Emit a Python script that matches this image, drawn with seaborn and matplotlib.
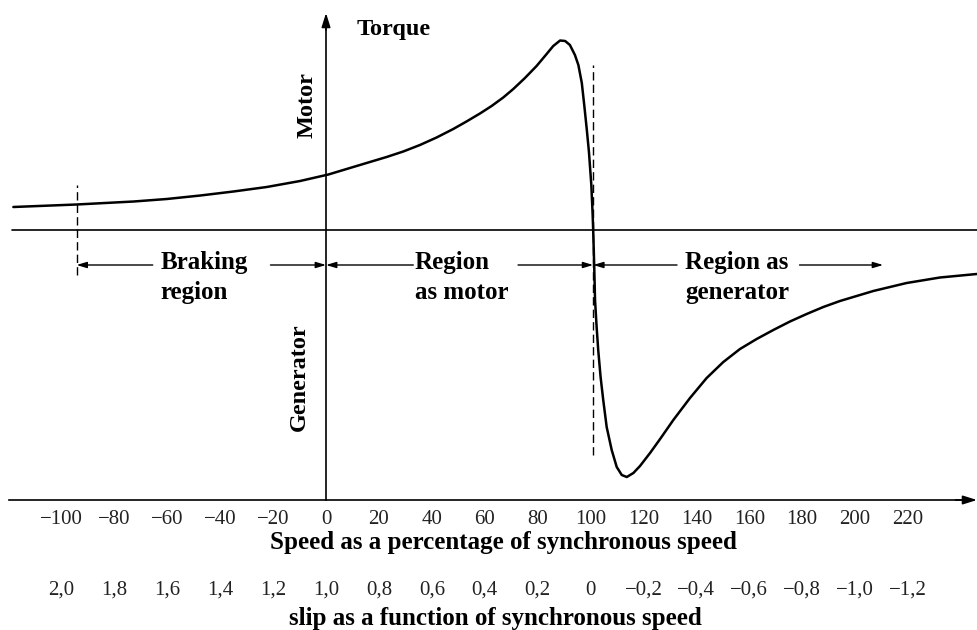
import matplotlib
matplotlib.use("Agg")
import matplotlib.pyplot as plt
import pandas as pd
import seaborn as sns

# Torque-speed characteristic of an induction machine (torque in arbitrary units)
speed_pct = [-118.2, -94.3, -72.7, -60.2, -47.5, -35, -22.4, -9.8, 0.9, 10.3, 16.6, 22.9, 29.2,
             35.5, 41.8, 48.1, 53.1, 58.2, 62.6, 67, 70.8, 75.2, 79.6, 83.4, 85.9, 88.5, 90.4,
             92.2, 94.1, 95.4, 96.7, 97.7, 98.6, 99.4, 100.3, 100.8, 101.0,
             101.4, 101.7, 102.3, 102.9, 103.8, 104.8, 106.1, 108.0, 109.9, 111.8, 113.7,
             116.2, 118.7, 122.5, 126.3, 131.3, 137.6, 143.9, 150.2, 156.5, 162.8, 169.1,
             175.4, 181.7, 188, 194.3, 206.9, 219.5, 232.1, 246]
torque = [0.23, 0.255, 0.285, 0.31, 0.345, 0.385, 0.43, 0.49, 0.555, 0.63, 0.68, 0.73, 0.785,
          0.85, 0.925, 1.01, 1.085, 1.165, 1.24, 1.325, 1.41, 1.52, 1.64, 1.76, 1.84, 1.895, 1.89,
          1.85, 1.75, 1.65, 1.47, 1.23, 1.00, 0.78, 0.45, 0.15, 0.0,
          -0.37, -0.70, -0.97, -1.20, -1.47, -1.70, -1.97, -2.20, -2.37, -2.45, -2.47,
          -2.43, -2.36, -2.23, -2.09, -1.90, -1.68, -1.48, -1.32, -1.19, -1.09, -1.00,
          -0.915, -0.84, -0.77, -0.71, -0.61, -0.53, -0.475, -0.44]

speed_ticks = [-100, -80, -60, -40, -20, 0, 20, 40, 60, 80, 100, 120, 140, 160, 180, 200, 220]
slip_ticks = [2.0, 1.8, 1.6, 1.4, 1.2, 1.0, 0.8, 0.6, 0.4, 0.2, 0.0, -0.2, -0.4, -0.6, -0.8, -1.0, -1.2]

braking_limit = -94.3
sync_speed = 101
speed_axis_y = -2.70

df = pd.DataFrame({"speed": speed_pct, "torque": torque})

sns.set_theme(style="white")
plt.rcParams["font.family"] = ["Liberation Serif", "DejaVu Serif"]
plt.rcParams["axes.unicode_minus"] = True

fig = plt.figure(figsize=(9.77, 6.30), dpi=100)
ax = fig.add_axes([0, 0, 1, 1])
ax.set_xlim(-123.25, 246.1)
ax.set_ylim(-4.0, 2.3)

sns.lineplot(data=df, x="speed", y="torque", ax=ax, color="black", lw=1.8,
             solid_joinstyle="round", solid_capstyle="round")

# axes drawn through the origin like the textbook figure
for side in ["top", "right"]:
    ax.spines[side].set_visible(False)
ax.spines["left"].set_position(("data", 0))
ax.spines["left"].set_bounds(speed_axis_y, 2.10)
ax.spines["bottom"].set_position(("data", speed_axis_y))
ax.spines["bottom"].set_bounds(-120, 240)
for side in ["left", "bottom"]:
    ax.spines[side].set_color("black")
    ax.spines[side].set_linewidth(1.2)
head = dict(arrowstyle="-|>,head_length=0.7,head_width=0.22", color="black", lw=1.2, shrinkA=0, shrinkB=0)
ax.annotate("", xy=(0, 2.17), xytext=(0, 2.0), arrowprops=head)
ax.annotate("", xy=(246.1, speed_axis_y), xytext=(238, speed_axis_y), arrowprops=head)

ax.set_yticks([])
ax.set_xticks(speed_ticks, labels=[f"{t}".replace("-", "\u2212") for t in speed_ticks])
ax.tick_params(axis="x", direction="in", length=8, width=1.0, pad=7,
               labelsize=15, labelcolor="#222222", color="black")
ax.set_xlabel("")
ax.set_ylabel("")

sec = ax.secondary_xaxis(130 / 630, functions=(lambda s: 1 - s / 100, lambda p: 100 * (1 - p)))
slip_labels = ["0" if v == 0 else f"{v:.1f}".replace(".", ",").replace("-", "\u2212") for v in slip_ticks]
sec.set_xticks(slip_ticks, labels=slip_labels)
sec.tick_params(axis="x", length=0, pad=58, labelsize=15, labelcolor="#222222")
sec.spines["bottom"].set_visible(False)

# zero torque line and region boundaries
ax.axhline(0, xmin=12 / 977, xmax=1, color="black", lw=1.2)
ax.vlines([braking_limit], -0.45, 0.45, colors="black", lw=1.0, linestyles=(0, (6, 3)))
ax.vlines([sync_speed], -2.25, 1.65, colors="black", lw=1.0, linestyles=(0, (6, 3)))

arrow = dict(arrowstyle="-|>,head_length=0.5,head_width=0.15", color="black", lw=1.0, shrinkA=0, shrinkB=0)
arrow_y = -0.35
ax.annotate("", xy=(braking_limit, arrow_y), xytext=(-65.5, arrow_y), arrowprops=arrow)
ax.annotate("", xy=(0, arrow_y), xytext=(-21, arrow_y), arrowprops=arrow)
ax.annotate("", xy=(0, arrow_y), xytext=(33, arrow_y), arrowprops=arrow)
ax.annotate("", xy=(sync_speed, arrow_y), xytext=(72.6, arrow_y), arrowprops=arrow)
ax.annotate("", xy=(sync_speed, arrow_y), xytext=(132.7, arrow_y), arrowprops=arrow)
ax.annotate("", xy=(210.6, arrow_y), xytext=(179, arrow_y), arrowprops=arrow)

bold = dict(fontsize=18, fontweight="bold", color="black")
ax.text(-62.7, -0.475, "Braking\nregion", ha="left", va="center", linespacing=1.35, **bold)
ax.text(33.6, -0.475, "Region\nas motor", ha="left", va="center", linespacing=1.35, **bold)
ax.text(135.7, -0.475, "Region as\ngenerator", ha="left", va="center", linespacing=1.35, **bold)

ax.text(11.7, 2.0, "Torque", ha="left", va="center", fontsize=17.5, fontweight="bold", color="black")
ax.text(-7.2, 1.25, "Motor", ha="center", va="center", rotation=90,
        fontsize=17.5, fontweight="bold", color="black")
ax.text(-10.2, -1.47, "Generator", ha="center", va="center", rotation=90,
        fontsize=17.5, fontweight="bold", color="black")
ax.text(67, -3.13, "Speed as a percentage of synchronous speed", ha="center", va="center",
        fontsize=18, fontweight="bold", color="black")
ax.text(64, -3.88, "slip as a function of synchronous speed", ha="center", va="center",
        fontsize=18, fontweight="bold", color="black")

fig.savefig("out.png", dpi=100)
plt.close(fig)
